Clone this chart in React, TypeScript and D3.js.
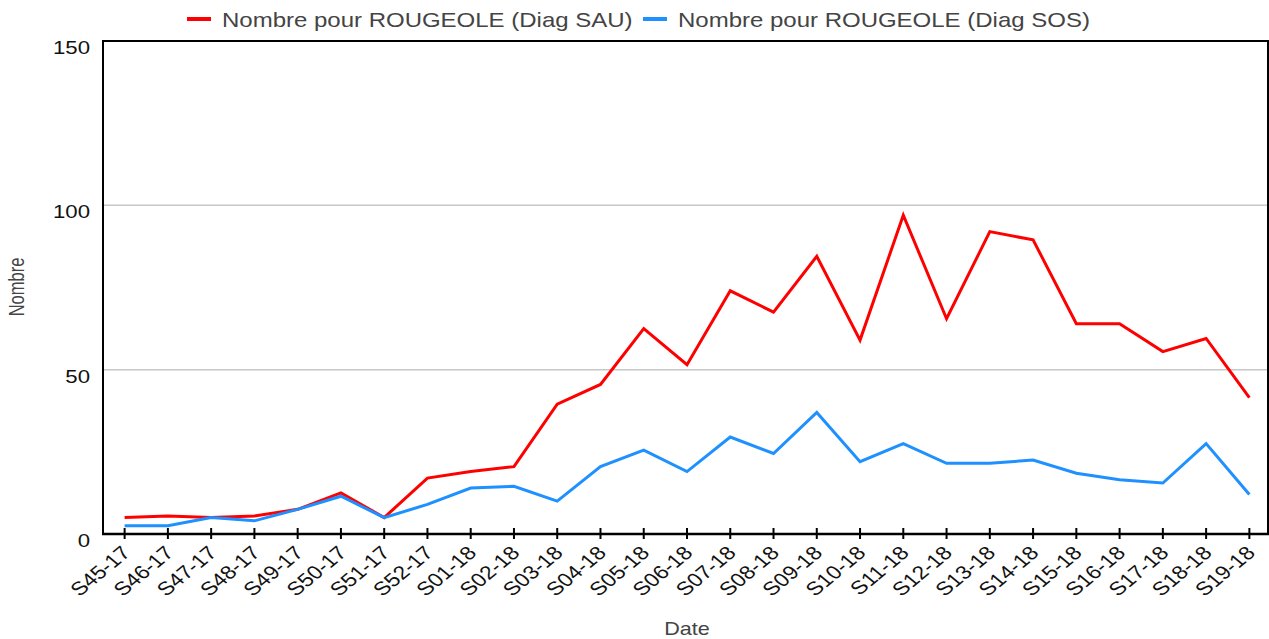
import React, {useEffect, useRef} from 'react';
import * as d3 from 'd3';

// weeks on the x axis
const weeks = [
  'S45-17', 'S46-17', 'S47-17', 'S48-17', 'S49-17', 'S50-17', 'S51-17', 'S52-17',
  'S01-18', 'S02-18', 'S03-18', 'S04-18', 'S05-18', 'S06-18', 'S07-18', 'S08-18',
  'S09-18', 'S10-18', 'S11-18', 'S12-18', 'S13-18', 'S14-18', 'S15-18', 'S16-18',
  'S17-18', 'S18-18', 'S19-18',
];

// Nombre pour ROUGEOLE (Diag SAU)
const sauValues = [
  5, 5.5, 5, 5.5, 7.5, 12.5, 5, 17, 19, 20.5, 39.5, 45.5, 62.5, 51.5, 74, 67.5,
  84.5, 59, 97, 65.5, 92, 89.5, 64, 64, 55.5, 59.5, 41.5,
];

// Nombre pour ROUGEOLE (Diag SOS)
const sosValues = [
  2.5, 2.5, 5, 4, 7.5, 11.5, 5, 9, 14, 14.5, 10, 20.5, 25.5, 19, 29.5, 24.5,
  37, 22, 27.5, 21.5, 21.5, 22.5, 18.5, 16.5, 15.5, 27.5, 12,
];

const yTicks = [0, 50, 100, 150];

const seriesNames = ['Nombre pour ROUGEOLE (Diag SAU)', 'Nombre pour ROUGEOLE (Diag SOS)'];
const seriesColors = ['#ff0000', '#1e90ff'];

const W = 1269;
const H = 639;
const SX = 1.2; // the original picture is stretched horizontally
const FONT = 'Liberation Sans, Arial, sans-serif';

export default function App() {
  const ref = useRef<SVGSVGElement>(null);

  useEffect(() => {
    const svg = d3.select(ref.current);
    svg.selectAll('*').remove();

    const left = 103,
      right = 1268,
      top = 41,
      bottom = 534;

    const x = d3.scalePoint<string>().domain(weeks).range([left, 1271]).padding(0.5);
    const y = d3.scaleLinear().domain([0, 150]).range([bottom, top]);

    // grid lines
    svg
      .append('g')
      .selectAll('line')
      .data(yTicks.filter(t => t > 0 && t < 150))
      .enter()
      .append('line')
      .attr('x1', left)
      .attr('x2', right)
      .attr('y1', d => y(d))
      .attr('y2', d => y(d))
      .attr('stroke', '#c8c8c8')
      .attr('stroke-width', 1.5);

    // frame: top, left, right
    svg
      .append('path')
      .attr('d', `M${left},${bottom}V${y(150)}H${right}V${bottom}`)
      .attr('fill', 'none')
      .attr('stroke', '#000')
      .attr('stroke-width', 2);

    // y tick labels
    svg
      .append('g')
      .selectAll('text')
      .data(yTicks)
      .enter()
      .append('text')
      .attr('transform', d => `translate(90,${y(d) + 13}) scale(${SX},1)`)
      .attr('text-anchor', 'end')
      .attr('font-family', FONT)
      .attr('font-size', 18.5)
      .attr('fill', '#111')
      .text(d => d);

    // lines
    const line = d3
      .line<number>()
      .x((_, i) => x(weeks[i]) as number)
      .y(d => y(d));
    [sauValues, sosValues].forEach((vals, i) => {
      svg
        .append('path')
        .datum(vals)
        .attr('d', line)
        .attr('fill', 'none')
        .attr('stroke', seriesColors[i])
        .attr('stroke-width', 3)
        .attr('stroke-linejoin', 'miter');
    });

    // x axis
    svg
      .append('line')
      .attr('x1', left - 1)
      .attr('x2', W)
      .attr('y1', bottom)
      .attr('y2', bottom)
      .attr('stroke', '#000')
      .attr('stroke-width', 2.5);
    svg
      .append('g')
      .selectAll('line')
      .data(weeks)
      .enter()
      .append('line')
      .attr('x1', d => x(d) as number)
      .attr('x2', d => x(d) as number)
      .attr('y1', bottom - 6)
      .attr('y2', bottom + 5)
      .attr('stroke', '#000')
      .attr('stroke-width', 2);
    svg
      .append('g')
      .selectAll('text')
      .data(weeks)
      .enter()
      .append('text')
      .attr('transform', d => `translate(${(x(d) as number) + 7},554) scale(${SX},1) rotate(-45)`)
      .attr('text-anchor', 'end')
      .attr('font-family', FONT)
      .attr('font-size', 19)
      .attr('fill', '#111')
      .text(d => d);

    // axis titles
    svg
      .append('text')
      .attr('transform', `translate(687,635) scale(${SX},1)`)
      .attr('text-anchor', 'middle')
      .attr('font-family', FONT)
      .attr('font-size', 18)
      .attr('fill', '#444')
      .text('Date');
    svg
      .append('text')
      .attr('transform', `translate(24,287) scale(1.35,1) rotate(-90)`)
      .attr('text-anchor', 'middle')
      .attr('font-family', FONT)
      .attr('font-size', 16.5)
      .attr('fill', '#444')
      .text('Nombre');

    // legend
    const legendX = [187, 643];
    seriesNames.forEach((name, i) => {
      const g = svg.append('g').attr('transform', `translate(${legendX[i]},0)`);
      g.append('line')
        .attr('x1', 0)
        .attr('x2', 24)
        .attr('y1', 19)
        .attr('y2', 19)
        .attr('stroke', seriesColors[i])
        .attr('stroke-width', 4);
      g.append('text')
        .attr('transform', `translate(35,26.7) scale(${SX},1)`)
        .attr('font-family', FONT)
        .attr('font-size', 20)
        .attr('fill', '#444')
        .text(name);
    });
  }, []);

  return (
    <svg
      ref={ref}
      width={W}
      height={H}
      style={{position: 'absolute', left: 0, top: 0, background: '#fff'}}
    />
  );
}
